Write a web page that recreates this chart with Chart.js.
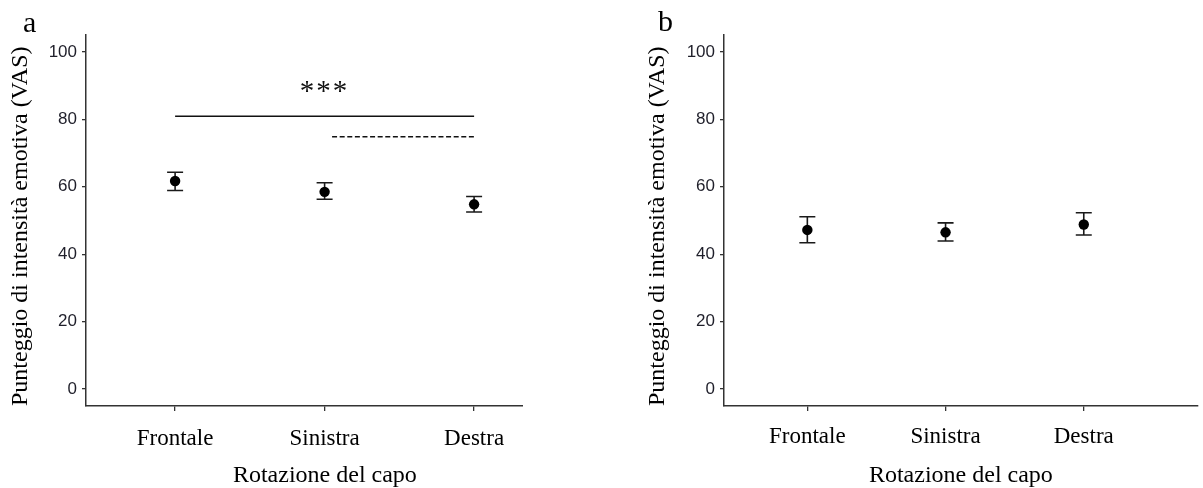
<!DOCTYPE html>
<html>
<head>
<meta charset="utf-8">
<script src="https://cdn.jsdelivr.net/npm/chart.js@4/dist/chart.umd.min.js"></script>
<style>
  body { margin: 0; background: #fff; }
  .wrap { position: absolute; top: 0; height: 488px; overflow: hidden; }
  .tag { position: absolute; font: 30px 'Liberation Serif', 'Times New Roman', serif; line-height: 30px; color: #000; }
</style>
</head>
<body>
<div class="wrap" style="left:0;width:523px"><canvas id="chartA" width="569" height="488"></canvas></div>
<div class="wrap" style="left:640px;width:563px"><canvas id="chartB" width="563" height="488"></canvas></div>
<div class="tag" style="left:23px;top:7px">a</div>
<div class="tag" style="left:658px;top:6px">b</div>
<script>
// Data
const categories = ['Frontale', 'Sinistra', 'Destra'];
const yTicks = [0, 20, 40, 60, 80, 100];

const meanA = [61.7, 58.5, 54.8];
const lowA = [58.9, 56.3, 52.5];
const highA = [64.3, 61.2, 57.1];

const meanB = [47.2, 46.5, 48.8];
const lowB = [43.4, 43.9, 45.7];
const highB = [51.1, 49.3, 52.3];

// significance bars (panel a)
const sigSolidX = [1, 3];
const sigSolidY = 80.9;
const sigDashedX = [2.05, 3];
const sigDashedY = 74.8;
const sigText = '***';
const sigTextPos = { x: 2, y: 85.8 };

const yTitle = 'Punteggio di intensità emotiva (VAS)';
const xTitle = 'Rotazione del capo';

// Error bars drawn through the scales
const errorBars = {
	id: 'errorBars',
	beforeDatasetsDraw(chart, args, opts) {
		const { ctx, scales: { x, y } } = chart;
		ctx.save();
		ctx.strokeStyle = '#1a1a1a';
		ctx.lineWidth = 1.6;
		opts.low.forEach((lo, i) => {
			const px = x.getPixelForValue(i + 1);
			const top = y.getPixelForValue(opts.high[i]);
			const bot = y.getPixelForValue(lo);
			ctx.beginPath();
			ctx.moveTo(px, top); ctx.lineTo(px, bot);
			ctx.moveTo(px - 8, top); ctx.lineTo(px + 8, top);
			ctx.moveTo(px - 8, bot); ctx.lineTo(px + 8, bot);
			ctx.stroke();
		});
		ctx.restore();
	}
};

// "***" label
const sigLabel = {
	id: 'sigLabel',
	afterDatasetsDraw(chart, args, opts) {
		if (!opts.text) return;
		const { ctx, scales: { x, y } } = chart;
		ctx.save();
		ctx.font = '29px "Liberation Serif", "Times New Roman", serif';
		ctx.fillStyle = '#111';
		ctx.textAlign = 'center';
		ctx.textBaseline = 'alphabetic';
		ctx.letterSpacing = '2px';
		ctx.fillText(opts.text, x.getPixelForValue(opts.x), y.getPixelForValue(opts.y));
		ctx.restore();
	}
};

function makeChart(id, cfg) {
	const datasets = [{
		data: cfg.mean.map((v, i) => ({ x: i + 1, y: v })),
		backgroundColor: '#000',
		borderWidth: 0,
		pointRadius: 5.2,
	}];
	(cfg.lines || []).forEach(l => datasets.push(l));

	return new Chart(document.getElementById(id), {
		type: 'scatter',
		data: { datasets: datasets },
		plugins: [errorBars, sigLabel],
		options: {
			responsive: false,
			animation: false,
			layout: { padding: { top: 35, right: 0, bottom: 0, left: 0 } },
			plugins: {
				legend: { display: false },
				tooltip: { enabled: false },
				errorBars: { low: cfg.low, high: cfg.high },
				sigLabel: cfg.sig || {},
			},
			scales: {
				x: {
					type: 'linear',
					min: cfg.xMin,
					max: cfg.xMax,
					afterBuildTicks: s => { s.ticks = categories.map((c, i) => ({ value: i + 1 })); },
					afterFit: s => { s.height = 82; },
					grid: { drawOnChartArea: false, drawTicks: true, tickLength: 5, color: '#333', lineWidth: 1.3 },
					border: { color: '#333', width: 1.5 },
					ticks: {
						color: '#000',
						padding: cfg.xPad,
						font: { family: '"Liberation Serif", "Times New Roman", serif', size: 23 },
						callback: v => categories[v - 1] || '',
					},
					title: {
						display: true,
						text: xTitle,
						color: '#000',
						padding: 0,
						font: { family: '"Liberation Serif", "Times New Roman", serif', size: 24, lineHeight: 1 },
					}
				},
				y: {
					min: -5,
					max: 105,
					afterBuildTicks: s => { s.ticks = yTicks.map(v => ({ value: v })); },
					afterFit: s => { s.width = cfg.yWidth; },
					grid: { drawOnChartArea: false, drawTicks: true, tickLength: 4, color: '#333', lineWidth: 1.3 },
					border: { color: '#333', width: 1.5 },
					ticks: {
						color: '#1f1f2a',
						padding: 5,
						font: { family: '"Liberation Sans Narrow", "Liberation Sans", Arial, sans-serif', size: 17 },
					},
					title: {
						display: true,
						text: yTitle,
						align: 'start',
						color: '#000',
						padding: { top: cfg.yTitlePad, bottom: 0 },
						font: { family: '"Liberation Serif", "Times New Roman", serif', size: 24 },
					}
				}
			}
		}
	});
}

makeChart('chartA', {
	mean: meanA, low: lowA, high: highA,
	xMin: 0.404, xMax: 3.6, xPad: 14, yWidth: 86, yTitlePad: 6,
	lines: [
		{
			data: sigSolidX.map(v => ({ x: v, y: sigSolidY })),
			showLine: true, pointRadius: 0, borderColor: '#111', borderWidth: 1.6,
		},
		{
			data: sigDashedX.map(v => ({ x: v, y: sigDashedY })),
			showLine: true, pointRadius: 0, borderColor: '#111', borderWidth: 1.5, borderDash: [5, 2.6],
		}
	],
	sig: { text: sigText, x: sigTextPos.x, y: sigTextPos.y },
});

makeChart('chartB', {
	mean: meanB, low: lowB, high: highB,
	xMin: 0.397, xMax: 3.825, xPad: 12, yWidth: 84, yTitlePad: 3.6,
});
</script>
</body>
</html>
